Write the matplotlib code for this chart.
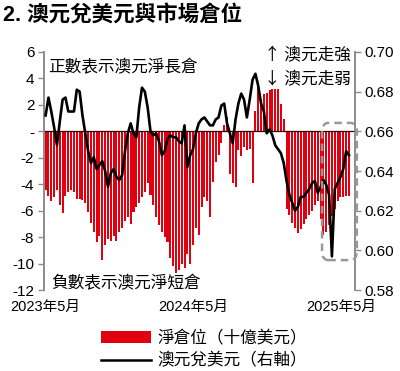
import numpy as np
import pandas as pd
import matplotlib
matplotlib.use("Agg")
import matplotlib.pyplot as plt
from matplotlib.patches import Patch, FancyBboxPatch
from matplotlib.lines import Line2D

plt.rcParams['font.family'] = ['Liberation Sans', 'Noto Sans CJK TC', 'DejaVu Sans']

# weekly net positioning (USD bn)
net_pos = [-4.4, -4.9, -5.3, -5.0, -4.4, -5.6, -6.2, -4.9, -4.6, -4.4,
           -4.6, -5.1, -5.1, -5.2, -5.4, -6.1, -6.9, -7.6, -8.4, -7.9,
           -9.7, -8.6, -8.1, -8.3, -7.9, -8.3, -7.6, -7.3, -6.8, -6.5,
           -7.0, -6.1, -5.7, -5.4, -5.0, -4.6, -3.9, -4.8, -5.6, -6.5,
           -7.1, -7.6, -8.0, -8.4, -9.6, -10.2, -10.7, -10.5, -10.0, -10.3,
           -9.3, -10.0, -8.6, -7.3, -7.8, -5.7, -5.0, -5.3, -6.5, -3.8,
           -2.3, -1.8, -0.9, 0.5, 1.1, -3.2, -3.9, -4.2, -1.4, -1.9,
           -1.2, -1.4, -1.3, -3.9, 1.5, 3.4, 2.3, 2.8, 2.9, 3.1,
           3.2, 3.2, 3.2, 2.1, 0.9, -5.9, -6.3, -6.9, -7.3, -7.7,
           -7.4, -7.0, -6.6, -6.3, -6.0, -5.6, -5.3, -6.6, -7.8, -7.6,
           -7.1, -6.4, -5.9, -5.3, -5.0, -5.0, -4.9, -4.9]

# AUD/USD (right axis), same weekly dates
audusd = [0.668, 0.677, 0.670, 0.662, 0.653, 0.665, 0.676, 0.677, 0.670, 0.670,
          0.670, 0.681, 0.680, 0.668, 0.659, 0.650, 0.644, 0.647, 0.641, 0.643,
          0.645, 0.640, 0.632, 0.639, 0.641, 0.637, 0.6355, 0.638, 0.650, 0.659,
          0.664, 0.659, 0.657, 0.672, 0.682, 0.680, 0.672, 0.660, 0.658, 0.659,
          0.655, 0.648, 0.650, 0.656, 0.658, 0.657, 0.657, 0.655, 0.654, 0.663,
          0.642, 0.648, 0.651, 0.659, 0.664, 0.666, 0.667, 0.665, 0.663, 0.663,
          0.666, 0.667, 0.673, 0.674, 0.664, 0.659, 0.654, 0.666, 0.674, 0.679,
          0.676, 0.667, 0.676, 0.686, 0.689, 0.683, 0.674, 0.670, 0.659, 0.661,
          0.658, 0.653, 0.651, 0.649, 0.644, 0.635, 0.628, 0.624, 0.620, 0.622,
          0.627, 0.627, 0.629, 0.631, 0.634, 0.635, 0.629, 0.632, 0.6355, 0.633,
          0.628, 0.597, 0.631, 0.634, 0.637, 0.641, 0.650, 0.648]

dates = pd.date_range('2023-05-02', periods=len(net_pos), freq='7D')

xtick_dates = pd.to_datetime(['2023-05-01', '2024-05-01', '2025-05-01'])
xtick_labels = ['2023年5月', '2024年5月', '2025年5月']
left_ticks = [6, 4, 2, 0, -2, -4, -6, -8, -10, -12]
left_labels = ['6', '4', '2', '-', '-2', '-4', '-6', '-8', '-10', '-12']
right_ticks = [0.58, 0.60, 0.62, 0.64, 0.66, 0.68, 0.70]

red = '#E0000F'
grey = '#8c8c8c'
cjk = ['Noto Sans CJK TC', 'DejaVu Sans']

fig = plt.figure(figsize=(4.0, 3.71), dpi=100)
ax = fig.add_axes([0.11, 0.218, 0.7775, 0.642])
ax2 = ax.twinx()

ax.bar(dates, net_pos, width=5, color=red, zorder=2)
ax.axhline(0, color='#3a0000', lw=0.9, zorder=3)
ax.set_ylim(-12, 6)
ax.set_yticks(left_ticks)
ax.set_yticklabels(left_labels, fontsize=11)
ax.set_xlim(pd.Timestamp('2023-04-28'), pd.Timestamp('2025-06-04'))
ax.set_xticks(xtick_dates)
ax.set_xticklabels(xtick_labels, fontsize=10.5)
ax.tick_params(axis='x', length=0, pad=7)
ax.tick_params(axis='y', length=4, color=grey, width=1, pad=3)

ax2.plot(dates, audusd, color='black', lw=1.9, zorder=4)
ax2.set_ylim(0.58, 0.70)
ax2.set_yticks(right_ticks)
ax2.set_yticklabels(['%.2f' % t for t in right_ticks], fontsize=11)
ax2.tick_params(axis='y', length=4, color=grey, width=1, pad=3)

for a in (ax, ax2):
    a.spines['top'].set_visible(False)
    a.spines['bottom'].set_visible(False)
    a.spines['left'].set_color(grey)
    a.spines['right'].set_color(grey)
    a.spines['left'].set_linewidth(1.2)
    a.spines['right'].set_linewidth(1.2)

ax.text(0.013, 0.933, '正數表示澳元淨長倉', transform=ax.transAxes, fontsize=12,
        va='center', ha='left', family=cjk)
ax.text(0.022, 0.025, '負數表示澳元淨短倉', transform=ax.transAxes, fontsize=12,
        va='center', ha='left', family=cjk)
ax.text(0.708, 0.983, '↑ 澳元走強', transform=ax.transAxes, fontsize=12,
        va='center', ha='left', family=cjk)
ax.text(0.708, 0.882, '↓ 澳元走弱', transform=ax.transAxes, fontsize=12,
        va='center', ha='left', family=cjk)

box = FancyBboxPatch((0.894, 0.126), 0.112, 0.576, transform=ax.transAxes,
                     boxstyle='round,pad=0,rounding_size=0.02', fill=False,
                     edgecolor='#999999', lw=1.8, ls=(0, (3, 2)), clip_on=False,
                     zorder=6, mutation_aspect=2)
ax2.add_patch(box)

fig.text(0.008, 0.958, '2. 澳元兌美元與市場倉位', fontsize=15.5, fontweight='bold',
         va='center', ha='left')

handles = [Patch(facecolor=red, edgecolor='none'), Line2D([], [], color='black', lw=1.8)]
labels = ['淨倉位（十億美元）', '澳元兌美元（右軸）']
fig.legend(handles, labels, loc='center', bbox_to_anchor=(0.51, 0.057), frameon=False,
           handlelength=3.0, handletextpad=0.4, labelspacing=0.35,
           borderaxespad=0, prop={'family': cjk, 'size': 12})

fig.savefig('out.png', dpi=100)
